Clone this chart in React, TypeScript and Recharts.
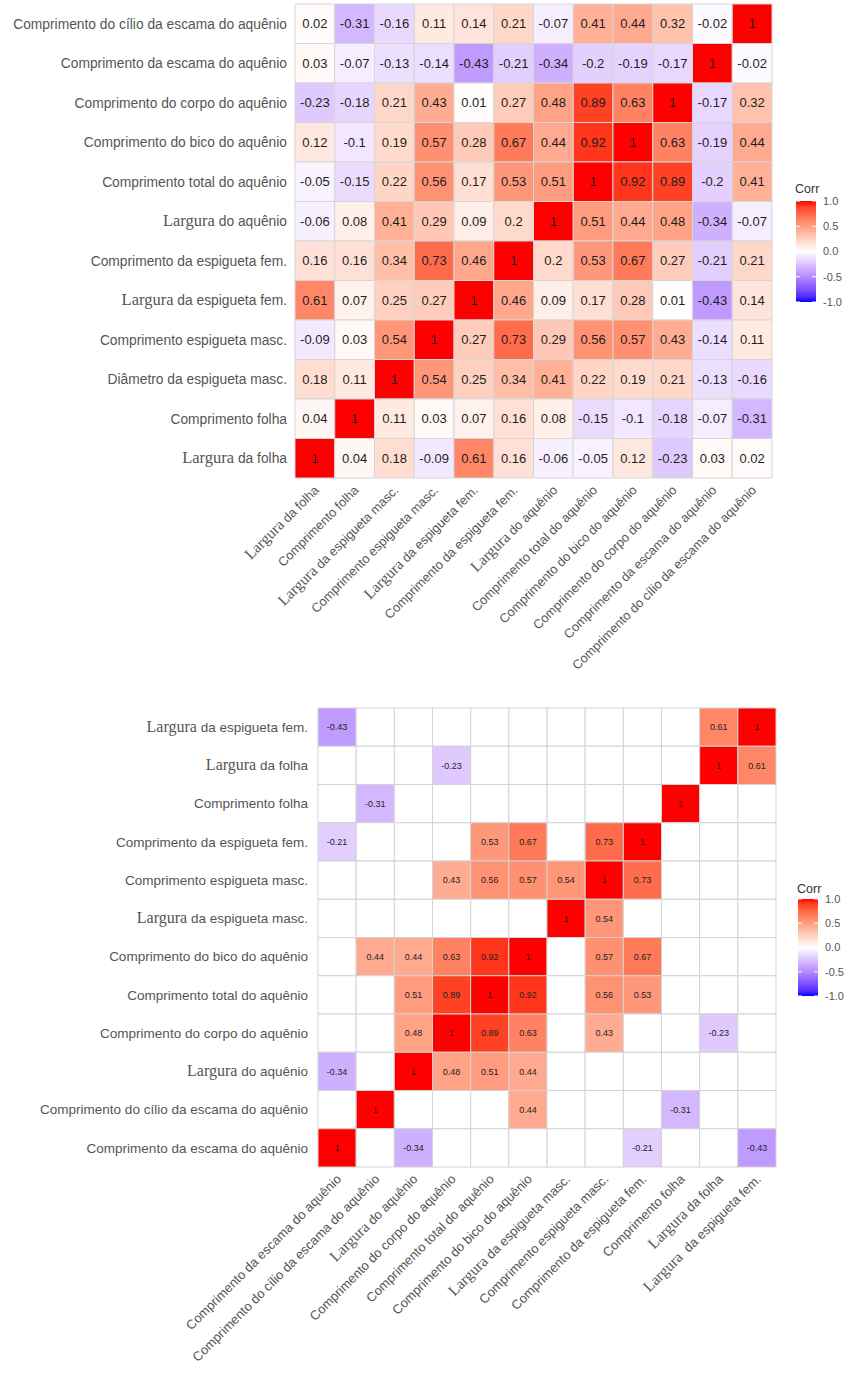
import React from 'react';
import { ScatterChart, Scatter, XAxis, YAxis, ReferenceArea } from 'recharts';

// ---------- full correlation matrix (upper panel) ----------
const topRows = [
  'Comprimento do cílio da escama do aquênio',
  'Comprimento da escama do aquênio',
  'Comprimento do corpo do aquênio',
  'Comprimento do bico do aquênio',
  'Comprimento total do aquênio',
  'Largura do aquênio',
  'Comprimento da espigueta fem.',
  'Largura da espigueta fem.',
  'Comprimento espigueta masc.',
  'Diâmetro da espigueta masc.',
  'Comprimento folha',
  'Largura da folha',
];

const topCols = [
  'Largura da folha',
  'Comprimento folha',
  'Largura da espigueta masc.',
  'Comprimento espigueta masc.',
  'Largura da espigueta fem.',
  'Comprimento da espigueta fem.',
  'Largura do aquênio',
  'Comprimento total do aquênio',
  'Comprimento do bico do aquênio',
  'Comprimento do corpo do aquênio',
  'Comprimento da escama do aquênio',
  'Comprimento do cílio da escama do aquênio',
];

// rows listed top to bottom, columns left to right
const topValues: number[][] = [
  [0.02, -0.31, -0.16, 0.11, 0.14, 0.21, -0.07, 0.41, 0.44, 0.32, -0.02, 1],
  [0.03, -0.07, -0.13, -0.14, -0.43, -0.21, -0.34, -0.2, -0.19, -0.17, 1, -0.02],
  [-0.23, -0.18, 0.21, 0.43, 0.01, 0.27, 0.48, 0.89, 0.63, 1, -0.17, 0.32],
  [0.12, -0.1, 0.19, 0.57, 0.28, 0.67, 0.44, 0.92, 1, 0.63, -0.19, 0.44],
  [-0.05, -0.15, 0.22, 0.56, 0.17, 0.53, 0.51, 1, 0.92, 0.89, -0.2, 0.41],
  [-0.06, 0.08, 0.41, 0.29, 0.09, 0.2, 1, 0.51, 0.44, 0.48, -0.34, -0.07],
  [0.16, 0.16, 0.34, 0.73, 0.46, 1, 0.2, 0.53, 0.67, 0.27, -0.21, 0.21],
  [0.61, 0.07, 0.25, 0.27, 1, 0.46, 0.09, 0.17, 0.28, 0.01, -0.43, 0.14],
  [-0.09, 0.03, 0.54, 1, 0.27, 0.73, 0.29, 0.56, 0.57, 0.43, -0.14, 0.11],
  [0.18, 0.11, 1, 0.54, 0.25, 0.34, 0.41, 0.22, 0.19, 0.21, -0.13, -0.16],
  [0.04, 1, 0.11, 0.03, 0.07, 0.16, 0.08, -0.15, -0.1, -0.18, -0.07, -0.31],
  [1, 0.04, 0.18, -0.09, 0.61, 0.16, -0.06, -0.05, 0.12, -0.23, 0.03, 0.02],
];

// ---------- clustered, significant-only matrix (lower panel) ----------
const bottomRows = [
  'Largura da espigueta fem.',
  'Largura da folha',
  'Comprimento folha',
  'Comprimento da espigueta fem.',
  'Comprimento espigueta masc.',
  'Largura da espigueta masc.',
  'Comprimento do bico do aquênio',
  'Comprimento total do aquênio',
  'Comprimento do corpo do aquênio',
  'Largura do aquênio',
  'Comprimento do cílio da escama do aquênio',
  'Comprimento da escama do aquênio',
];

const bottomCols = [
  'Comprimento da escama do aquênio',
  'Comprimento do cílio da escama do aquênio',
  'Largura do aquênio',
  'Comprimento do corpo do aquênio',
  'Comprimento total do aquênio',
  'Comprimento do bico do aquênio',
  'Largura da espigueta masc.',
  'Comprimento espigueta masc.',
  'Comprimento da espigueta fem.',
  'Comprimento folha',
  'Largura da folha',
  'Largura  da espigueta fem.',
];

const _ = null;
const bottomValues: (number | null)[][] = [
  [-0.43, _, _, _, _, _, _, _, _, _, 0.61, 1],
  [_, _, _, -0.23, _, _, _, _, _, _, 1, 0.61],
  [_, -0.31, _, _, _, _, _, _, _, 1, _, _],
  [-0.21, _, _, _, 0.53, 0.67, _, 0.73, 1, _, _, _],
  [_, _, _, 0.43, 0.56, 0.57, 0.54, 1, 0.73, _, _, _],
  [_, _, _, _, _, _, 1, 0.54, _, _, _, _],
  [_, 0.44, 0.44, 0.63, 0.92, 1, _, 0.57, 0.67, _, _, _],
  [_, _, 0.51, 0.89, 1, 0.92, _, 0.56, 0.53, _, _, _],
  [_, _, 0.48, 1, 0.89, 0.63, _, 0.43, _, _, -0.23, _],
  [-0.34, _, 1, 0.48, 0.51, 0.44, _, _, _, _, _, _],
  [_, 1, _, _, _, 0.44, _, _, _, -0.31, _, _],
  [1, _, -0.34, _, _, _, _, _, -0.21, _, _, -0.43],
];

const legendBreaks = [1, 0.5, 0, -0.5, -1];

// ---------- blue / white / red diverging scale, interpolated in CIE Lab ----------
type Lab = [number, number, number];
const toLin = (c: number) => {
  const v = c / 255;
  return v <= 0.04045 ? v / 12.92 : Math.pow((v + 0.055) / 1.055, 2.4);
};
const fromLin = (v: number) => {
  const c = v <= 0.0031308 ? 12.92 * v : 1.055 * Math.pow(v, 1 / 2.4) - 0.055;
  return Math.max(0, Math.min(255, Math.round(c * 255)));
};
const Xn = 0.95047, Yn = 1, Zn = 1.08883;
const f = (t: number) => (t > 0.008856 ? Math.cbrt(t) : 7.787 * t + 16 / 116);
const finv = (t: number) => (t * t * t > 0.008856 ? t * t * t : (t - 16 / 116) / 7.787);
function rgbToLab(r: number, g: number, b: number): Lab {
  const R = toLin(r), G = toLin(g), B = toLin(b);
  const X = 0.4124 * R + 0.3576 * G + 0.1805 * B;
  const Y = 0.2126 * R + 0.7152 * G + 0.0722 * B;
  const Z = 0.0193 * R + 0.1192 * G + 0.9505 * B;
  const fx = f(X / Xn), fy = f(Y / Yn), fz = f(Z / Zn);
  return [116 * fy - 16, 500 * (fx - fy), 200 * (fy - fz)];
}
function labToHex([L, a, bb]: Lab): string {
  const fy = (L + 16) / 116;
  const fx = fy + a / 500;
  const fz = fy - bb / 200;
  const X = Xn * finv(fx), Y = Yn * finv(fy), Z = Zn * finv(fz);
  const R = 3.2406 * X - 1.5372 * Y - 0.4986 * Z;
  const G = -0.9689 * X + 1.8758 * Y + 0.0415 * Z;
  const B = 0.0557 * X - 0.204 * Y + 1.057 * Z;
  const h = (n: number) => n.toString(16).padStart(2, '0');
  return '#' + h(fromLin(R)) + h(fromLin(G)) + h(fromLin(B));
}
const LAB_LOW = rgbToLab(0, 0, 255);
const LAB_MID = rgbToLab(255, 255, 255);
const LAB_HIGH = rgbToLab(255, 0, 0);
function corrColor(v: number): string {
  const t = Math.max(-1, Math.min(1, v));
  const end = t >= 0 ? LAB_HIGH : LAB_LOW;
  const k = Math.abs(t);
  return labToHex([
    LAB_MID[0] + (end[0] - LAB_MID[0]) * k,
    LAB_MID[1] + (end[1] - LAB_MID[1]) * k,
    LAB_MID[2] + (end[2] - LAB_MID[2]) * k,
  ]);
}

// ---------- shared pieces ----------
const SANS = '"Liberation Sans", Arial, Helvetica, sans-serif';
const SERIF = '"Liberation Serif", "Times New Roman", serif';
const AXIS_COLOR = '#555555';
const N = 12;
const TICKS = Array.from({ length: N }, (_v, i) => i + 0.5);

function MixedLabel({ label, serifSize }: { label: string; serifSize: number }) {
  if (label.startsWith('Largura')) {
    const rest = label.slice('Largura'.length);
    return (
      <>
        <tspan fontFamily={SERIF} fontSize={serifSize}>Largura</tspan>
        <tspan style={{ whiteSpace: 'pre' }}>{rest}</tspan>
      </>
    );
  }
  return <>{label}</>;
}

function makeYTick(rows: string[], gap: number, size: number, serifSize: number) {
  return (props: any) => {
    const { x, y, payload } = props;
    const label = rows[Math.round(N - 0.5 - payload.value)];
    return (
      <text
        x={x - gap}
        y={y}
        dy="0.36em"
        textAnchor="end"
        fill={AXIS_COLOR}
        fontSize={size}
        fontFamily={SANS}
        style={{ whiteSpace: 'pre' }}
      >
        <MixedLabel label={label} serifSize={serifSize} />
      </text>
    );
  };
}

function makeXTick(cols: string[], dx: number, dy: number, size: number, serifSize: number) {
  return (props: any) => {
    const { x, y, payload } = props;
    const label = cols[Math.round(payload.value - 0.5)];
    const ax = x + dx;
    const ay = y + dy;
    return (
      <text
        x={ax}
        y={ay}
        textAnchor="end"
        fill={AXIS_COLOR}
        fontSize={size}
        fontFamily={SANS}
        transform={`rotate(-45 ${ax} ${ay})`}
        style={{ whiteSpace: 'pre' }}
      >
        <MixedLabel label={label} serifSize={serifSize} />
      </text>
    );
  };
}

type Cell = { x: number; y: number; col: number; row: number; value: number | null; text: string };

function buildCells(values: (number | null)[][]): Cell[] {
  const out: Cell[] = [];
  values.forEach((rowVals, r) => {
    rowVals.forEach((v, c) => {
      out.push({
        col: c,
        row: N - 1 - r,
        x: c + 0.5,
        y: N - 0.5 - r,
        value: v,
        text: v === null ? '' : String(v),
      });
    });
  });
  return out;
}

interface HeatmapProps {
  values: (number | null)[][];
  rows: string[];
  cols: string[];
  width: number;
  height: number;
  margin: { top: number; right: number; bottom: number; left: number };
  yAxisWidth: number;
  xAxisHeight: number;
  cellStroke: string;
  valueSize: number;
  valueColor: string;
  yLabelSize: number;
  xLabelSize: number;
  ySerifSize: number;
  xSerifSize: number;
  yGap: number;
  xDx: number;
  xDy: number;
}

function Heatmap(p: HeatmapProps) {
  const cells = buildCells(p.values);
  const labelled = cells.filter((c) => c.value !== null);
  return (
    <ScatterChart width={p.width} height={p.height} margin={p.margin}>
      <XAxis
        type="number"
        dataKey="x"
        domain={[0, N]}
        ticks={TICKS}
        interval={0}
        axisLine={false}
        tickLine={false}
        tickSize={0}
        tickMargin={0}
        height={p.xAxisHeight}
        tick={makeXTick(p.cols, p.xDx, p.xDy, p.xLabelSize, p.xSerifSize)}
      />
      <YAxis
        type="number"
        dataKey="y"
        domain={[0, N]}
        ticks={TICKS}
        interval={0}
        axisLine={false}
        tickLine={false}
        tickSize={0}
        tickMargin={0}
        width={p.yAxisWidth}
        tick={makeYTick(p.rows, p.yGap, p.yLabelSize, p.ySerifSize)}
      />
      {cells.map((c) => (
        <ReferenceArea
          key={`cell-${c.row}-${c.col}`}
          x1={c.col}
          x2={c.col + 1}
          y1={c.row}
          y2={c.row + 1}
          fill={c.value === null ? '#ffffff' : corrColor(c.value)}
          fillOpacity={1}
          stroke={p.cellStroke}
          strokeWidth={1}
          ifOverflow="visible"
        />
      ))}
      <Scatter
        data={labelled}
        isAnimationActive={false}
        shape={(sp: any) => (
          <text
            x={sp.cx}
            y={sp.cy}
            dy="0.36em"
            textAnchor="middle"
            fontSize={p.valueSize}
            fontFamily={SANS}
            fill={p.valueColor}
          >
            {sp.payload.text}
          </text>
        )}
      />
    </ScatterChart>
  );
}

function ColorBar({ x, titleY, barTop, barH, id }: { x: number; titleY: number; barTop: number; barH: number; id: string }) {
  const barW = 20;
  const stops = Array.from({ length: 21 }, (_v, i) => 1 - i / 10);
  const yOf = (v: number) => barTop + ((1 - v) / 2) * barH;
  return (
    <g>
      <defs>
        <linearGradient id={id} x1="0" y1="0" x2="0" y2="1">
          {stops.map((v, i) => (
            <stop key={i} offset={`${(i / 20) * 100}%`} stopColor={corrColor(v)} />
          ))}
        </linearGradient>
      </defs>
      <text x={x - 1} y={titleY} fontSize={12.5} fontFamily={SANS} fill="#333">Corr</text>
      <rect x={x} y={barTop} width={barW} height={barH} fill={`url(#${id})`} />
      {legendBreaks.map((v) => (
        <g key={v}>
          <line x1={x} x2={x + 4} y1={yOf(v)} y2={yOf(v)} stroke="#ffffff" strokeWidth={1} />
          <line x1={x + barW - 4} x2={x + barW} y1={yOf(v)} y2={yOf(v)} stroke="#ffffff" strokeWidth={1} />
          <text x={x + 27} y={yOf(v)} dy="0.36em" fontSize={11} fontFamily={SANS} fill={AXIS_COLOR}>
            {v.toFixed(1)}
          </text>
        </g>
      ))}
    </g>
  );
}

export default function App() {
  return (
    <div style={{ position: 'absolute', left: 0, top: 0, width: 846, height: 1375, background: '#ffffff' }}>
      <div style={{ position: 'absolute', left: 0, top: 0 }}>
        <Heatmap
          values={topValues}
          rows={topRows}
          cols={topCols}
          width={846}
          height={700}
          margin={{ top: 4, right: 74, bottom: 0, left: 0 }}
          yAxisWidth={295}
          xAxisHeight={222}
          cellStroke="#d6d6d6"
          valueSize={13}
          valueColor="#1e1e1e"
          yLabelSize={13.8}
          xLabelSize={12.8}
          ySerifSize={16.5}
          xSerifSize={15.5}
          yGap={8}
          xDx={5}
          xDy={13}
        />
      </div>
      <div style={{ position: 'absolute', left: 0, top: 700 }}>
        <Heatmap
          values={bottomValues}
          rows={bottomRows}
          cols={bottomCols}
          width={846}
          height={675}
          margin={{ top: 8, right: 70, bottom: 0, left: 0 }}
          yAxisWidth={318}
          xAxisHeight={208}
          cellStroke="#d3d3d3"
          valueSize={9}
          valueColor="#1e1e1e"
          yLabelSize={13.5}
          xLabelSize={13}
          ySerifSize={16}
          xSerifSize={15.5}
          yGap={10}
          xDx={5}
          xDy={13}
        />
      </div>
      <svg
        width={846}
        height={1375}
        style={{ position: 'absolute', left: 0, top: 0, pointerEvents: 'none' }}
      >
        <ColorBar id="corr-grad-top" x={796} titleY={193} barTop={201} barH={101} />
        <ColorBar id="corr-grad-bottom" x={798} titleY={893} barTop={899} barH={97} />
      </svg>
    </div>
  );
}
